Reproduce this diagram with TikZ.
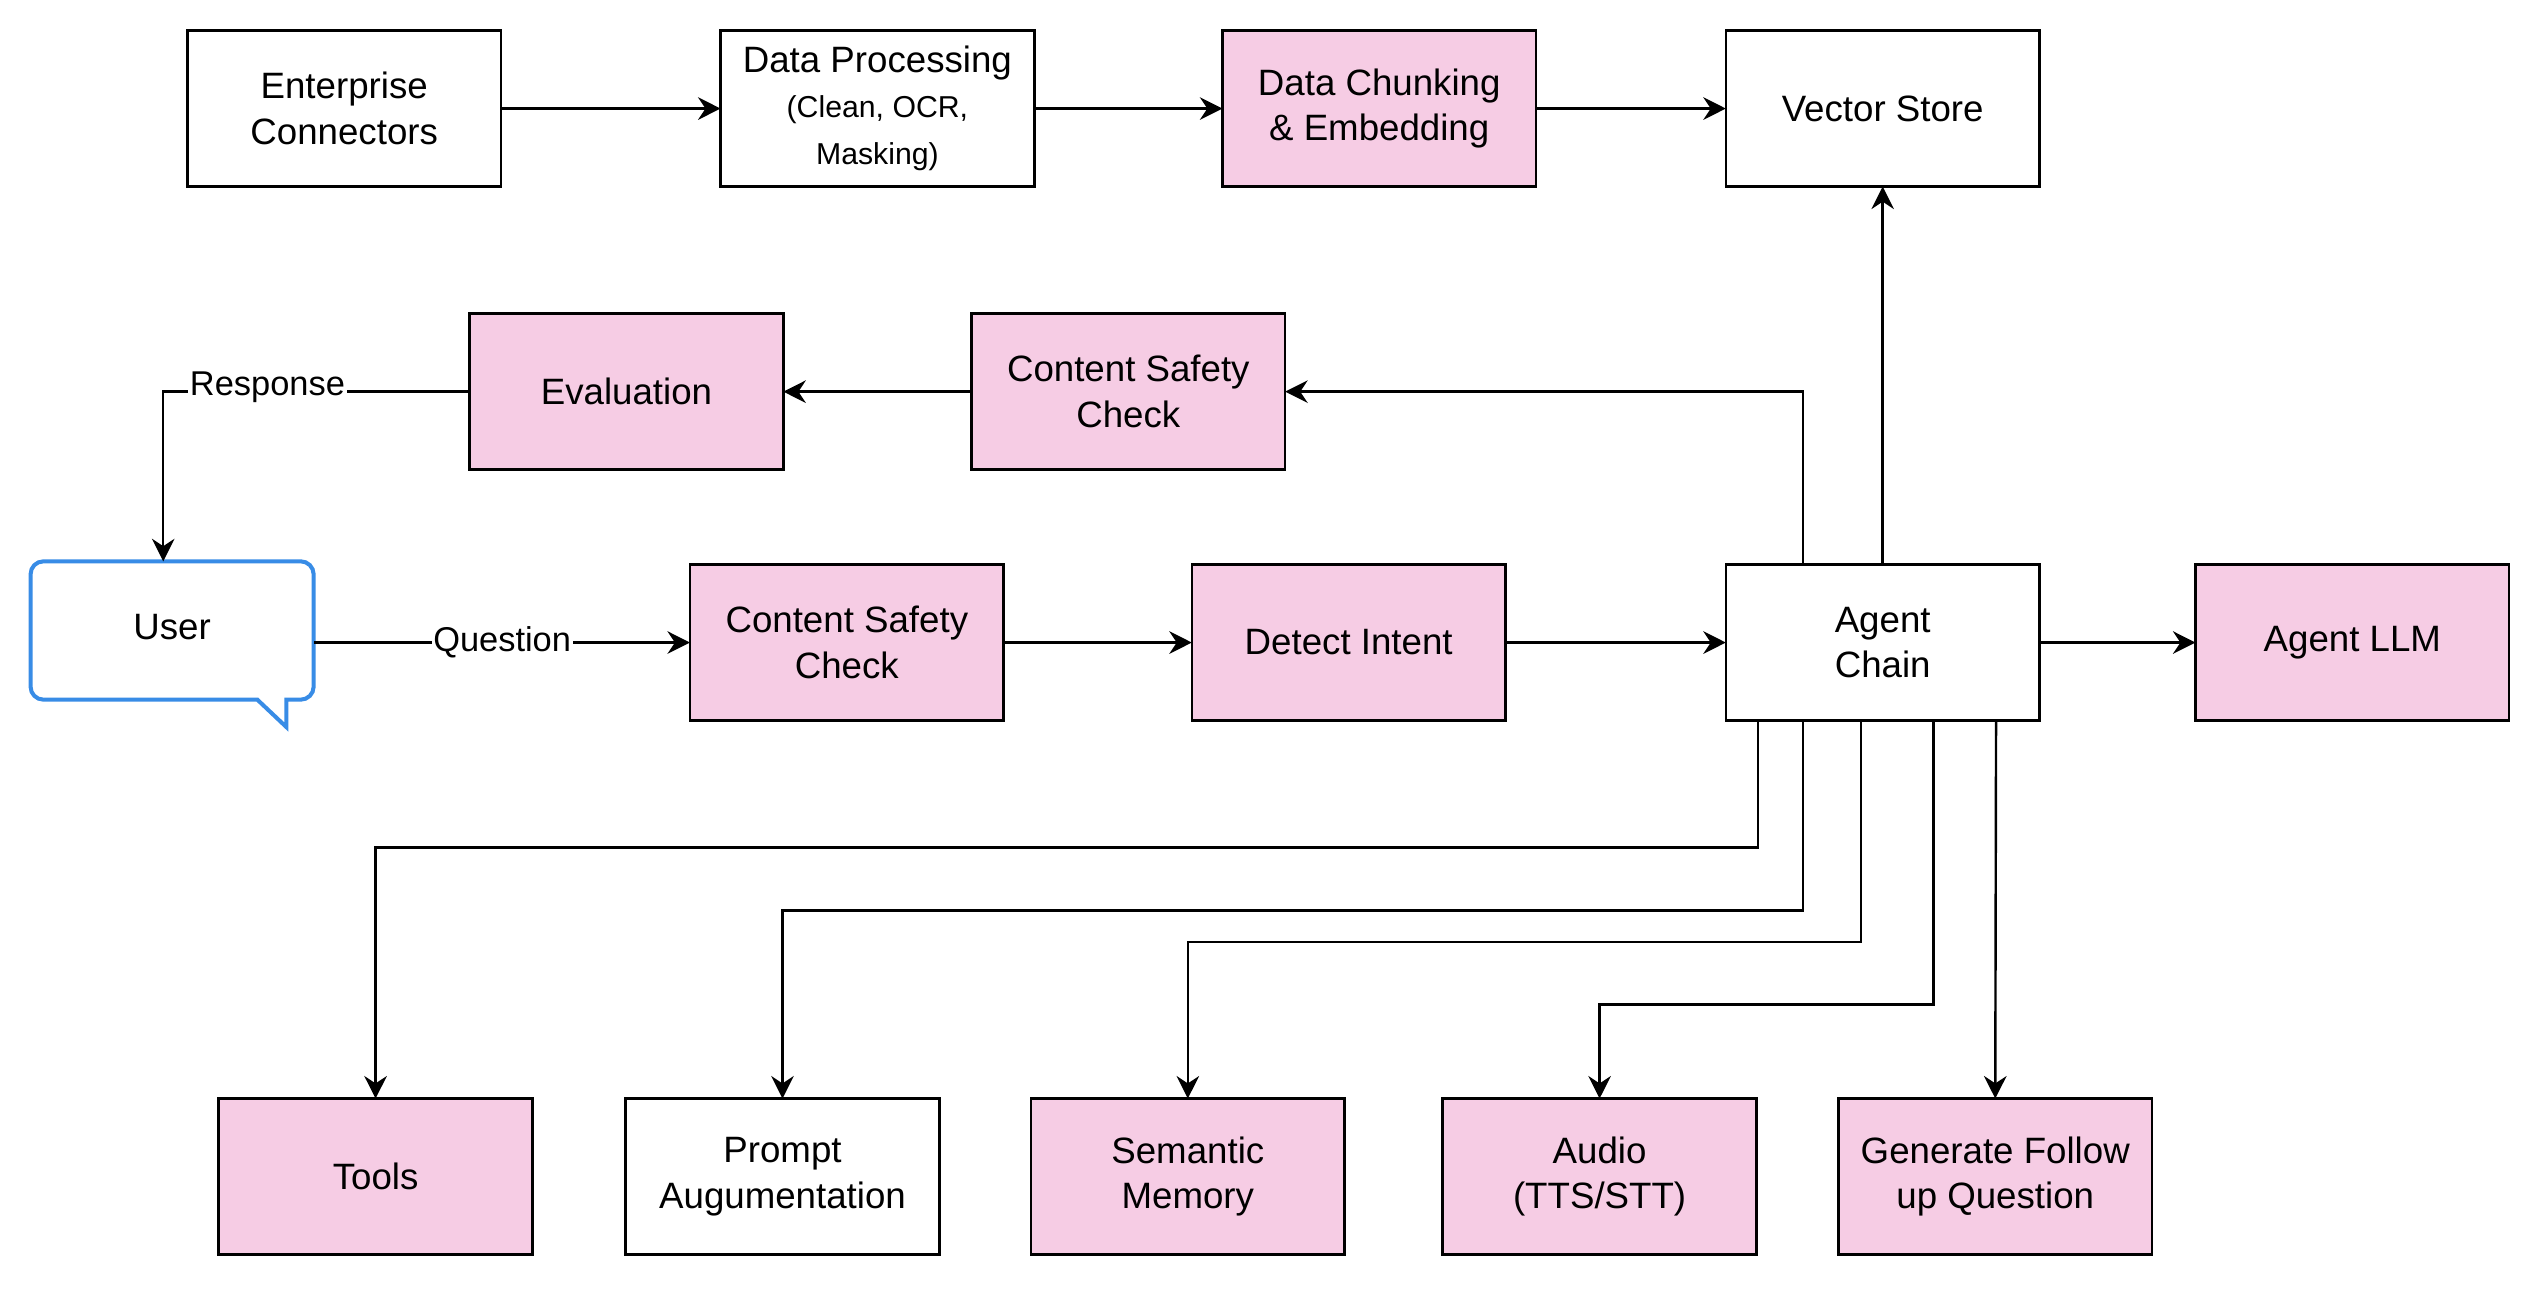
\documentclass[tikz,border=0pt]{standalone}
\usepackage{fontspec}
\setmainfont{Liberation Sans}
\usetikzlibrary{arrows.meta}
\definecolor{pinkfill}{RGB}{246,204,228}
\definecolor{userblue}{RGB}{56,140,230}
\begin{document}
\begin{tikzpicture}[x=0.5pt,y=-0.5pt,
  box/.style={draw=black,line width=0.8pt,minimum width=97.5pt,minimum height=48.5pt,inner sep=2pt,outer sep=0pt,align=center,font=\fontsize{11.4}{14.2}\selectfont},
  pinkbox/.style={box,fill=pinkfill},
  whitebox/.style={box,fill=white},
  arr/.style={draw=black,line width=0.75pt,-{Stealth[length=7pt,width=7pt,inset=2.3pt]}},
  lbl/.style={fill=white,inner sep=0.5pt,font=\fontsize{10.7}{12}\selectfont}]
\useasboundingbox (0,0) rectangle (1568,800.8);
% row 1
\node[whitebox] (ent) at (214,67.5) {Enterprise\\Connectors};
\node[whitebox,font=\fontsize{11.4}{14.5}\selectfont] (dp) at (545.5,67.5) {Data Processing\\[-0.5pt]\fontsize{9.4}{13.5}\selectfont (Clean, OCR,\\\fontsize{9.4}{13.5}\selectfont Masking)};
\node[pinkbox] (dc) at (857.5,67.5) {Data Chunking\\\&{} Embedding};
\node[whitebox] (vs) at (1170.5,67.5) {Vector Store};
% row 2
\node[pinkbox] (eval) at (389.5,243.5) {Evaluation};
\node[pinkbox] (csc1) at (701.5,243.5) {Content Safety\\Check};
% row 3
\draw[userblue,line width=1.25pt,fill=white]
  (27,349) -- (187,349) .. controls (191.4,349) and (195,352.6) .. (195,357)
  -- (195,427) .. controls (195,431.4) and (191.4,435) .. (187,435)
  -- (178,435) -- (178,452) -- (160,435)
  -- (27,435) .. controls (22.6,435) and (19,431.4) .. (19,427)
  -- (19,357) .. controls (19,352.6) and (22.6,349) .. (27,349) -- cycle;
\node[minimum width=88pt,minimum height=43pt,inner sep=0pt,font=\fontsize{11.4}{14.2}\selectfont] (user) at (107,390) {User};
\node[pinkbox] (csc2) at (526.5,399.5) {Content Safety\\Check};
\node[pinkbox] (di) at (838.5,399.5) {Detect Intent};
\node[whitebox] (ac) at (1170.5,399.5) {Agent\\Chain};
\node[pinkbox] (llm) at (1462.5,399.5) {Agent LLM};
% row 4
\node[pinkbox] (tools) at (233.5,731.5) {Tools};
\node[whitebox] (pa) at (486.5,731.5) {Prompt\\Augumentation};
\node[pinkbox] (sm) at (738.5,731.5) {Semantic\\Memory};
\node[pinkbox] (audio) at (994.5,731.5) {Audio\\(TTS/STT)};
\node[pinkbox] (gf) at (1240.5,731.5) {Generate Follow\\up Question};
% helper levels
\coordinate (h1) at (0,527);
\coordinate (h2) at (0,566);
\coordinate (h3) at (0,585.5);
\coordinate (h4) at (0,624.5);
% connectors
\draw[arr] (ent.east) -- (dp.west);
\draw[arr] (dp.east) -- (dc.west);
\draw[arr] (dc.east) -- (vs.west);
\draw[arr] (ac.north) -- (vs.south);
\draw[arr] ([xshift=-24.75pt]ac.north) |- (csc1.east);
\draw[arr] (csc1.west) -- (eval.east);
\draw[arr] (eval.west) -| node[lbl,pos=0.33,yshift=1.5pt]{Response} ([xshift=-2.75pt]user.north |- 0,349);
\draw[arr] (user.east |- csc2.west) -- node[lbl]{Question} (csc2.west);
\draw[arr] (csc2.east) -- (di.west);
\draw[arr] (di.east) -- (ac.west);
\draw[arr] (ac.east) -- (llm.west);
\draw[arr] ([xshift=-38.75pt]ac.south) |- (h1 -| tools.north) -- (tools.north);
\draw[arr] ([xshift=-24.75pt]ac.south) |- (h2 -| pa.north) -- (pa.north);
\draw[arr] ([xshift=-6.75pt]ac.south) |- (h3 -| sm.north) -- (sm.north);
\draw[arr] ([xshift=15.75pt]ac.south) |- (h4 -| audio.north) -- (audio.north);
\draw[arr] ([xshift=35.25pt]ac.south) -- (gf.north);
\end{tikzpicture}
\end{document}
